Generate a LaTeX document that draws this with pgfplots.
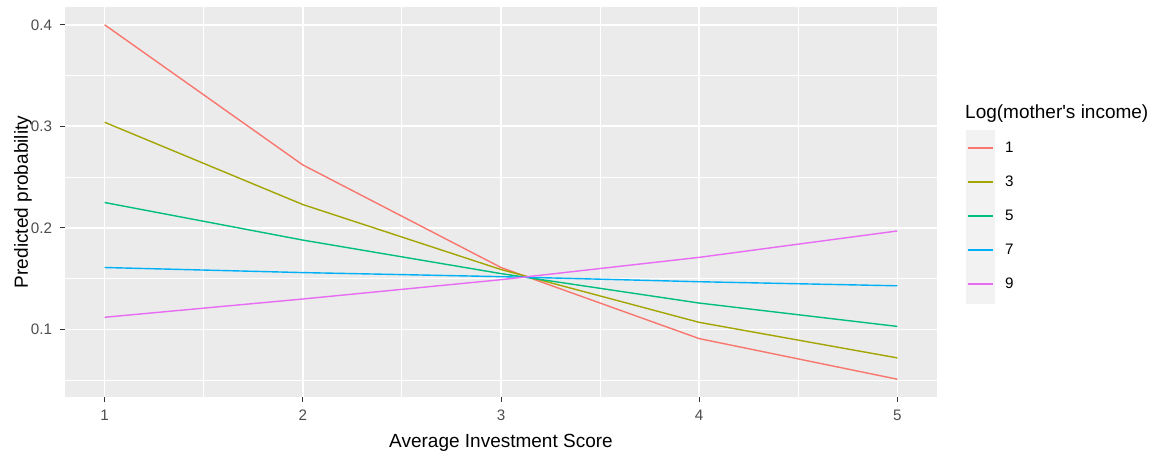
\documentclass[border=0pt]{standalone}
\usepackage{pgfplots}
\pgfplotsset{compat=1.18}
\usepackage{fontspec}
\setmainfont{Liberation Sans}
\definecolor{panel}{HTML}{EBEBEB}
\definecolor{keybg}{HTML}{F2F2F2}
\definecolor{tickgray}{HTML}{333333}
\definecolor{labgray}{HTML}{4D4D4D}
\definecolor{c1}{HTML}{F8766D}
\definecolor{c3}{HTML}{A3A500}
\definecolor{c5}{HTML}{00BF7D}
\definecolor{c7}{HTML}{00B0F6}
\definecolor{c9}{HTML}{E76BF3}
\newcommand{\tfont}{\fontsize{19}{22}\selectfont}
\newcommand{\sfont}{\fontsize{15.2}{18}\selectfont}
\begin{document}
\begin{tikzpicture}
\useasboundingbox (0pt,0pt) rectangle (1156pt,459pt);
\fill[keybg] (966pt,155pt) rectangle (995pt,329pt);
\begin{axis}[
  at={(65pt,62pt)}, anchor=south west,
  scale only axis, width=872pt, height=390pt,
  xmin=0.8, xmax=5.2, ymin=0.0335, ymax=0.4175,
  axis background/.style={fill=panel},
  axis x line*=bottom, axis y line*=left,
  axis line style={draw=none},
  xtick={1,2,3,4,5}, xticklabels={1,2,3,4,5},
  ytick={0.1,0.2,0.3,0.4}, yticklabels={0.1,0.2,0.3,0.4},
  minor xtick={1.5,2.5,3.5,4.5},
  minor ytick={0.05,0.15,0.25,0.35},
  grid=both,
  major grid style={white, line width=1.7pt},
  minor grid style={white, line width=0.9pt},
  tick align=outside,
  major tick length=4.75pt, minor tick length=0pt,
  tick style={tickgray, line width=1pt},
  xticklabel style={font=\sfont, text=labgray, inner sep=0pt, anchor=north, yshift=-8pt},
  yticklabel style={font=\sfont, text=labgray, inner sep=0pt, anchor=east, xshift=-8pt},
  xlabel={Average Investment Score},
  ylabel={Predicted probability},
  xlabel style={font=\tfont, at={(axis description cs:0.5,-0.1180)}, anchor=center},
  ylabel style={font=\tfont, at={(axis description cs:-0.0482,0.5)}, anchor=center},
  legend style={at={(axis description cs:1.0333,0.6820)}, anchor=north west, draw=none, fill=none,
    inner sep=0pt, outer sep=0pt, row sep=0pt,
    nodes={inner sep=0pt, anchor=west, font=\sfont}},
  legend cell align=left,
  legend image code/.code={
    \path[draw=none, fill=none] (0pt,-17pt) rectangle (39pt,17pt);
    \draw[#1, line width=1.6pt] (2pt,0pt) -- (27pt,0pt);
  },
  every axis plot/.append style={line width=1.4pt},
]
\addplot[c1] coordinates {(1,0.400) (2,0.262) (3,0.161) (4,0.091) (5,0.051)};
\addlegendentry{1}
\addplot[c3] coordinates {(1,0.304) (2,0.223) (3,0.159) (4,0.107) (5,0.072)};
\addlegendentry{3}
\addplot[c5] coordinates {(1,0.225) (2,0.188) (3,0.155) (4,0.126) (5,0.103)};
\addlegendentry{5}
\addplot[c7] coordinates {(1,0.161) (2,0.156) (3,0.152) (4,0.147) (5,0.143)};
\addlegendentry{7}
\addplot[c9] coordinates {(1,0.112) (2,0.130) (3,0.149) (4,0.171) (5,0.197)};
\addlegendentry{9}
\end{axis}
\node[anchor=west, inner sep=0pt, font=\tfont] at (965pt,345pt) {Log(mother\textquotesingle s income)};
\end{tikzpicture}
\end{document}
